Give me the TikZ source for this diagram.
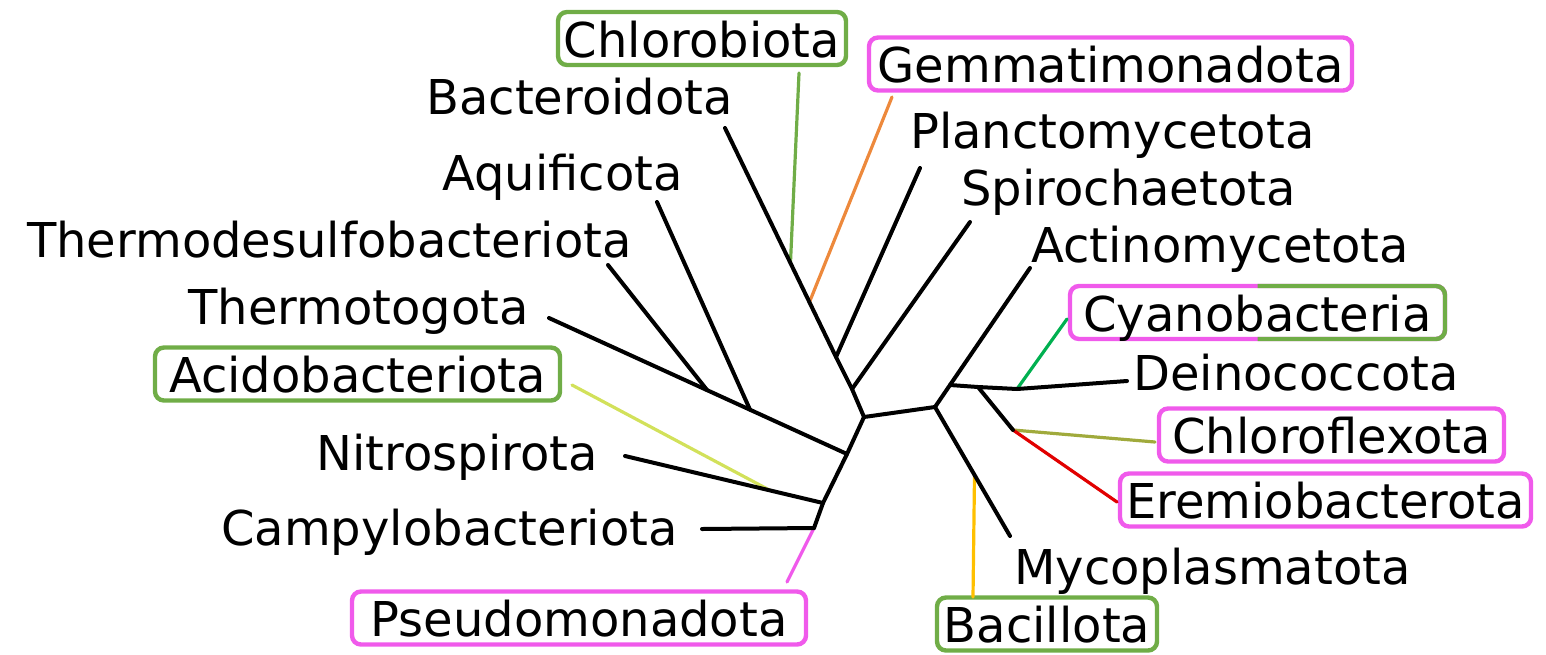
\documentclass[tikz,border=0pt]{standalone}
\usepackage{fontspec}
\setmainfont{DejaVu Sans}
\definecolor{pinkb}{RGB}{240,90,235}
\definecolor{greenb}{RGB}{112,173,71}
\definecolor{orangel}{RGB}{237,137,60}
\definecolor{cyanol}{RGB}{0,176,80}
\definecolor{olivel}{RGB}{160,170,60}
\definecolor{redl}{RGB}{225,0,0}
\definecolor{yellowl}{RGB}{255,192,0}
\definecolor{acidol}{RGB}{210,225,90}
\begin{document}
\begin{tikzpicture}[x=1pt,y=-1pt,
  lbl/.style={font=\fontsize{48}{50}\selectfont, inner sep=0pt},
  boxlbl/.style={font=\fontsize{48}{50}\selectfont, draw=#1, line width=4.4pt, rounded corners=9pt,
    text height=43pt, text depth=6pt, inner xsep=0pt, inner ysep=2pt, outer sep=0pt, align=center},
  branch/.style={line width=4pt, line cap=round, line join=round},
  cbranch/.style={line width=3.2pt, line cap=round, draw=#1}]
\useasboundingbox (0,0) rectangle (1546,654);

% boxed labels
\node[boxlbl=greenb, minimum width=288pt] (chlorobi) at (702,38.5) {Chlorobiota};
\node[boxlbl=pinkb, minimum width=483pt] (gemma) at (1110.5,64) {Gemmatimonadota};
\node[boxlbl=pinkb, minimum width=375pt] (cyano) at (1257.5,312.5) {Cyanobacteria};
\node[boxlbl=greenb, minimum width=405pt] (acido) at (357.5,374) {Acidobacteriota};
\node[boxlbl=pinkb, minimum width=345pt] (chlorofl) at (1331.5,435) {Chloroflexota};
\node[boxlbl=pinkb, minimum width=411pt] (eremio) at (1325.5,500) {Eremiobacterota};
\node[boxlbl=pinkb, minimum width=454pt] (pseudo) at (579,618) {Pseudomonadota};
\node[boxlbl=greenb, minimum width=220pt] (bacil) at (1047,624) {Bacillota};
\begin{scope}
  \clip ([yshift=10pt]cyano.north) rectangle ([xshift=10pt,yshift=-10pt]cyano.south east);
  \draw[greenb, line width=4.4pt, rounded corners=9pt] (cyano.south west) rectangle (cyano.north east);
\end{scope}

% plain labels
\node[lbl, anchor=base east] (bactel) at (733,114) {Bacteroidota};
\node[lbl, anchor=base east] (aquil) at (683,190) {Aquificota};
\node[lbl, anchor=base east] (thermodl) at (632,257) {Thermodesulfobacteriota};
\node[lbl, anchor=base east] (thermotl) at (529,324) {Thermotogota};
\node[lbl, anchor=base east] (nitrol) at (598,470) {Nitrospirota};
\node[lbl, anchor=base east] (campyl) at (678,545) {Campylobacteriota};
\node[lbl, anchor=base west] (planl) at (910,148) {Planctomycetota};
\node[lbl, anchor=base west] (spirol) at (961,205) {Spirochaetota};
\node[lbl, anchor=base west] (actinol) at (1031,262) {Actinomycetota};
\node[lbl, anchor=base west] (deinol) at (1133,390) {Deinococcota};
\node[lbl, anchor=base west] (mycol) at (1014,584) {Mycoplasmatota};

% tree coordinates
\coordinate (L) at (864,417);
\coordinate (R) at (935,407);
\coordinate (a1) at (852,389);
\coordinate (a2) at (836,357);
\coordinate (ag) at (809.5,302);
\coordinate (ac) at (790.5,262);
\coordinate (bacte) at (725,128);
\coordinate (plan) at (920,168);
\coordinate (spiro) at (970,222);
\coordinate (gemE) at (892,97);
\coordinate (chlE) at (799,73);
\coordinate (b1) at (847,454);
\coordinate (b2) at (823,503);
\coordinate (b3) at (814,528);
\coordinate (c1) at (750,409.7);
\coordinate (c2) at (707,390);
\coordinate (thermoto) at (549,318);
\coordinate (aqui) at (657,202);
\coordinate (thermod) at (608,265);
\coordinate (nitro) at (625,456);
\coordinate (acj) at (770,490.4);
\coordinate (acE) at (572,385);
\coordinate (campy) at (702,529);
\coordinate (pseE) at (787,582);
\coordinate (d1) at (950,385);
\coordinate (actino) at (1030,268);
\coordinate (d2) at (978,387);
\coordinate (d3) at (1017,389);
\coordinate (deino) at (1127,381);
\coordinate (cyE) at (1067,319);
\coordinate (d4) at (1013,430);
\coordinate (chlfE) at (1155,442);
\coordinate (eremE) at (1117,502);
\coordinate (e1) at (974.5,475);
\coordinate (myco) at (1010,536);
\coordinate (bacE) at (973,597);

% coloured branches
\draw[cbranch=pinkb] (b3) -- (pseE);
\draw[cbranch=acidol] (acj) -- (acE);
\draw[cbranch=orangel] (ag) -- (gemE);
\draw[cbranch=greenb] (ac) -- (chlE);
\draw[cbranch=cyanol] (d3) -- (cyE);
\draw[cbranch=olivel] (d4) -- (chlfE);
\draw[cbranch=redl] (d4) -- (eremE);
\draw[cbranch=yellowl] (e1) -- (bacE);

% black branches
\draw[branch] (L) -- (R);
\draw[branch] (L) -- (a1) -- (a2) -- (bacte);
\draw[branch] (a1) -- (spiro);
\draw[branch] (a2) -- (plan);
\draw[branch] (L) -- (b1) -- (b2) -- (b3);
\draw[branch] (b1) -- (thermoto);
\draw[branch] (c1) -- (aqui);
\draw[branch] (c2) -- (thermod);
\draw[branch] (b2) -- (nitro);
\draw[branch] (b3) -- (campy);
\draw[branch] (R) -- (d1) -- (actino);
\draw[branch] (d1) -- (d2) -- (d3) -- (deino);
\draw[branch] (d2) -- (d4);
\draw[branch] (R) -- (myco);
\end{tikzpicture}
\end{document}
